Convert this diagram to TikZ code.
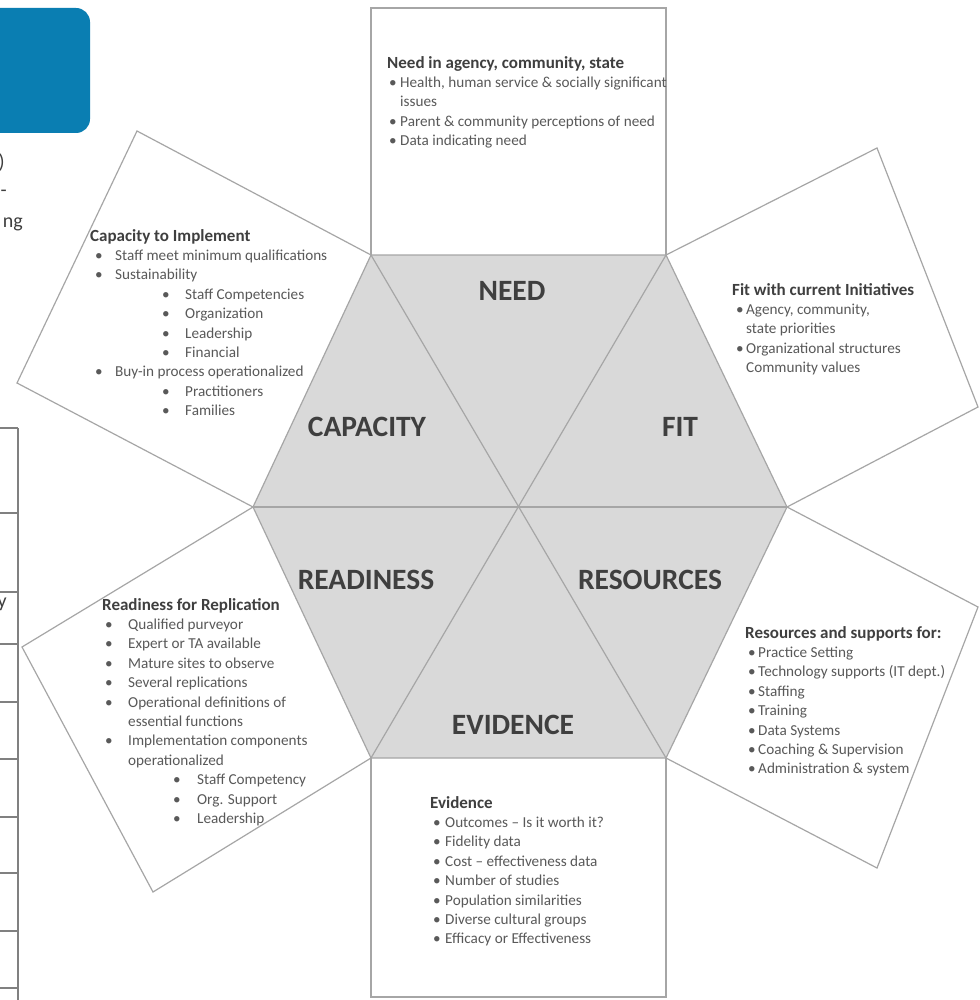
\documentclass[tikz,border=0pt]{standalone}
\usepackage{fontspec}
\setmainfont{Carlito}
\definecolor{hexgray}{HTML}{D9D9D9}
\definecolor{edgegray}{HTML}{A6A6A6}
\definecolor{txtgray}{HTML}{3F3F3F}
\definecolor{bodygray}{HTML}{595959}
\definecolor{slideblue}{RGB}{10,126,178}
\newcommand{\bitem}[3]{\hspace*{#1pt}\makebox[#2pt][l]{\textbullet}#3}
\newcommand{\boxhead}[1]{{\fontsize{17}{19.4}\selectfont\bfseries\color{txtgray}#1}}
\tikzset{
  boxtxt/.style={anchor=north west, inner sep=0pt, align=left, text=bodygray,
    font=\fontsize{15.2}{19.4}\selectfont},
  hexlbl/.style={text=txtgray, font=\fontsize{29.5}{31}\selectfont\bfseries},
  slidetxt/.style={anchor=base east, inner sep=0pt, text=txtgray,
    font=\fontsize{20}{24}\selectfont}
}
\begin{document}
\begin{tikzpicture}[x=1pt,y=-1pt]
\useasboundingbox (0,0) rectangle (979,1000);
\fill[white] (0,0) rectangle (979,1000);

\fill[slideblue, rounded corners=14pt] (-30,8) rectangle (90,133);
\node[slidetxt] (frag1) at (5,169) {)};
\node[slidetxt] (frag2) at (7,197) {-};
\node[slidetxt] (frag3) at (23,228) {ng};
\node[slidetxt] (frag4) at (7,607) {y};

\draw[gray, line width=1.6pt] (18,428) -- (18,1002);
\foreach \yy in {428,513,592,644,702,759,817,873,931,988}
  \draw[gray, line width=1.6pt] (-2,\yy) -- (18,\yy);

\draw[edgegray, line width=1.2pt, fill=white] (371,255) -- (371,8) -- (666,8) -- (666,255);
\draw[edgegray, line width=1.2pt, fill=white] (666,255) -- (877,148) -- (978,407) -- (787,507);
\draw[edgegray, line width=1.2pt, fill=white] (787,507) -- (978,607) -- (877,868) -- (666,758);
\draw[edgegray, line width=1.2pt, fill=white] (666,758) -- (666,997) -- (371,997) -- (371,758);
\draw[edgegray, line width=1.2pt, fill=white] (371,758) -- (153,892) -- (22,647) -- (253,507);
\draw[edgegray, line width=1.2pt, fill=white] (253,507) -- (17,383) -- (137,131) -- (371,255);

\draw[edgegray, line width=1.2pt, fill=hexgray] (371,255) -- (666,255) -- (787,507) -- (666,758) -- (371,758) -- (253,507) -- cycle;
\draw[edgegray, line width=1.2pt] (253,507) -- (787,507);
\draw[edgegray, line width=1.2pt] (371,255) -- (666,758);
\draw[edgegray, line width=1.2pt] (666,255) -- (371,758);

\node[hexlbl] (need) at (512,291) {NEED};
\node[hexlbl] (capacity) at (367,427) {CAPACITY};
\node[hexlbl] (fit) at (680,427) {FIT};
\node[hexlbl] (readiness) at (366,580) {READINESS};
\node[hexlbl] (resources) at (650,580) {RESOURCES};
\node[hexlbl] (evidence) at (513,725) {EVIDENCE};

\node[boxtxt] (need-txt) at (387,56) {\boxhead{Need in agency, community, state}\\
  \bitem{2}{11}{Health, human service \& socially significant}\\
  \hspace*{13pt}issues\\
  \bitem{2}{11}{Parent \& community perceptions of need}\\
  \bitem{2}{11}{Data indicating need}};

\node[boxtxt] (capacity-txt) at (90,229) {\boxhead{Capacity to Implement}\\
  \bitem{5}{20}{Staff meet minimum qualifications}\\
  \bitem{5}{20}{Sustainability}\\
  \bitem{72}{23}{Staff  Competencies}\\
  \bitem{72}{23}{Organization}\\
  \bitem{72}{23}{Leadership}\\
  \bitem{72}{23}{Financial}\\
  \bitem{5}{20}{Buy-in process operationalized}\\
  \bitem{72}{23}{Practitioners}\\
  \bitem{72}{23}{Families}};

\node[boxtxt] (fit-txt) at (732,283) {\boxhead{Fit with current Initiatives}\\
  \bitem{4}{10}{Agency, community,}\\
  \hspace*{14pt}state priorities\\
  \bitem{4}{10}{Organizational structures}\\
  \hspace*{14pt}Community values};

\node[boxtxt] (readiness-txt) at (102,598) {\boxhead{Readiness for Replication}\\
  \bitem{3}{23}{Qualified purveyor}\\
  \bitem{3}{23}{Expert or TA available}\\
  \bitem{3}{23}{Mature sites to observe}\\
  \bitem{3}{23}{Several replications}\\
  \bitem{3}{23}{Operational definitions of}\\
  \hspace*{26pt}essential functions\\
  \bitem{3}{23}{Implementation components}\\
  \hspace*{26pt}operationalized\\
  \bitem{71}{24}{Staff Competency}\\
  \bitem{71}{24}{Org. Support}\\
  \bitem{71}{24}{Leadership}};

\node[boxtxt] (resources-txt) at (745,626) {\boxhead{Resources and supports for:}\\
  \bitem{3}{10}{Practice Setting}\\
  \bitem{3}{10}{Technology supports (IT dept.)}\\
  \bitem{3}{10}{Staffing}\\
  \bitem{3}{10}{Training}\\
  \bitem{3}{10}{Data Systems}\\
  \bitem{3}{10}{Coaching \& Supervision}\\
  \bitem{3}{10}{Administration \& system}};

\node[boxtxt] (evidence-txt) at (430,796) {\boxhead{Evidence}\\
  \bitem{3}{12}{Outcomes -- Is it worth it?}\\
  \bitem{3}{12}{Fidelity data}\\
  \bitem{3}{12}{Cost -- effectiveness data}\\
  \bitem{3}{12}{Number of studies}\\
  \bitem{3}{12}{Population similarities}\\
  \bitem{3}{12}{Diverse cultural groups}\\
  \bitem{3}{12}{Efficacy or Effectiveness}};
\end{tikzpicture}
\end{document}
